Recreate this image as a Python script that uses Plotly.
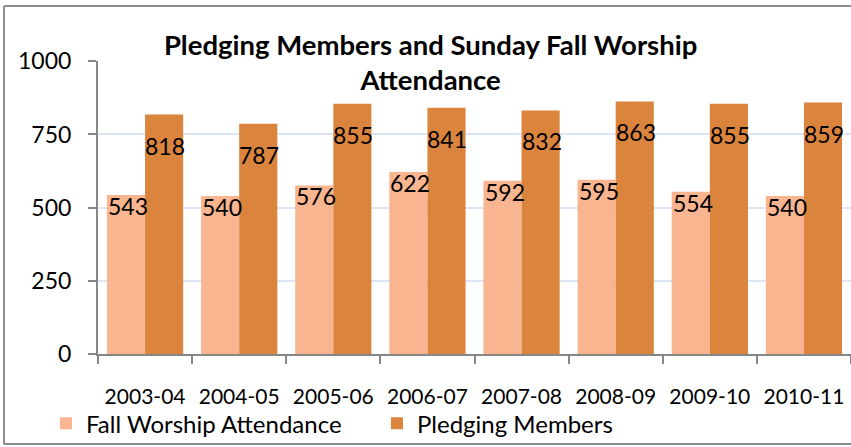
import plotly.graph_objects as go

categories = ["2003-04", "2004-05", "2005-06", "2006-07", "2007-08", "2008-09", "2009-10", "2010-11"]
attendance = [543, 540, 576, 622, 592, 595, 554, 540]
pledging = [818, 787, 855, 841, 832, 863, 855, 859]
y_ticks = [0, 250, 500, 750, 1000]

LIGHT = "#F8B58F"
DARK = "#DB843E"
FONT = "Lato"

fig = go.Figure()
fig.add_trace(go.Bar(name="Fall Worship Attendance", x=categories, y=attendance,
                     marker=dict(color=LIGHT, line=dict(width=0))))
fig.add_trace(go.Bar(name="Pledging Members", x=categories, y=pledging,
                     marker=dict(color=DARK, line=dict(width=0))))

annotations = []
for i, c in enumerate(categories):
    annotations.append(dict(x=c, y=attendance[i], xref="x", yref="y", text=str(attendance[i]),
                            showarrow=False, xshift=-17, yshift=5, yanchor="top",
                            font=dict(family=FONT, size=23, color="black")))
    annotations.append(dict(x=c, y=pledging[i], xref="x", yref="y", text=str(pledging[i]),
                            showarrow=False, xshift=20, yshift=-15, yanchor="top",
                            font=dict(family=FONT, size=23, color="black")))

BORDER = dict(color="#8C8C8C", width=2)
bx0, bx1, by0, by1 = -0.1248, 1.08, -0.3072, 1.1877
shapes = [
    dict(type="line", xref="paper", yref="paper", x0=bx0, x1=bx1, y0=by1, y1=by1, line=BORDER, layer="below"),
    dict(type="line", xref="paper", yref="paper", x0=bx0, x1=bx1, y0=by0, y1=by0, line=BORDER, layer="below"),
    dict(type="line", xref="paper", yref="paper", x0=bx0, x1=bx0, y0=by0, y1=by1, line=BORDER, layer="below"),
]

fig.update_layout(
    width=851, height=447,
    margin=dict(l=98, r=0, t=61, b=93, autoexpand=False),
    paper_bgcolor="white", plot_bgcolor="white",
    barmode="group", bargap=0.19, bargroupgap=0,
    font=dict(family=FONT, color="black"),
    title=dict(text="<b>Pledging Members and Sunday Fall Worship<br>Attendance</b>",
               x=0.506, xanchor="center", xref="container", y=0.878, yanchor="middle",
               yref="container",
               font=dict(family=FONT, size=27.5, color="black")),
    showlegend=True,
    legend=dict(orientation="h", x=0.054, xanchor="left", xref="container",
                y=0.052, yanchor="middle", yref="container",
                font=dict(family=FONT, size=24, color="black"),
                entrywidth=286, bgcolor="rgba(0,0,0,0)"),
    annotations=annotations,
    shapes=shapes,
)
fig.update_yaxes(range=[0, 1001], tickvals=y_ticks, showgrid=True, gridcolor="#DCE5F4", gridwidth=2,
                 showline=True, linecolor="#878787", linewidth=2, ticks="outside", ticklen=8,
                 tickcolor="#878787", tickwidth=2, tickfont=dict(family=FONT, size=23, color="black"),
                 ticklabelstandoff=12, zeroline=False, automargin=False)
fig.update_xaxes(type="category", showline=True, linecolor="#878787", linewidth=2, ticks="outside", ticklen=8,
                 tickcolor="#878787", tickwidth=2, tickson="boundaries",
                 tickfont=dict(family=FONT, size=21, color="black"), ticklabelstandoff=23, showgrid=False,
                 automargin=False)

fig.write_html("out.html", config={"displayModeBar": False},
               post_script="document.body.style.margin='0';document.body.style.overflow='hidden';"
                           "document.documentElement.style.overflow='hidden';")
